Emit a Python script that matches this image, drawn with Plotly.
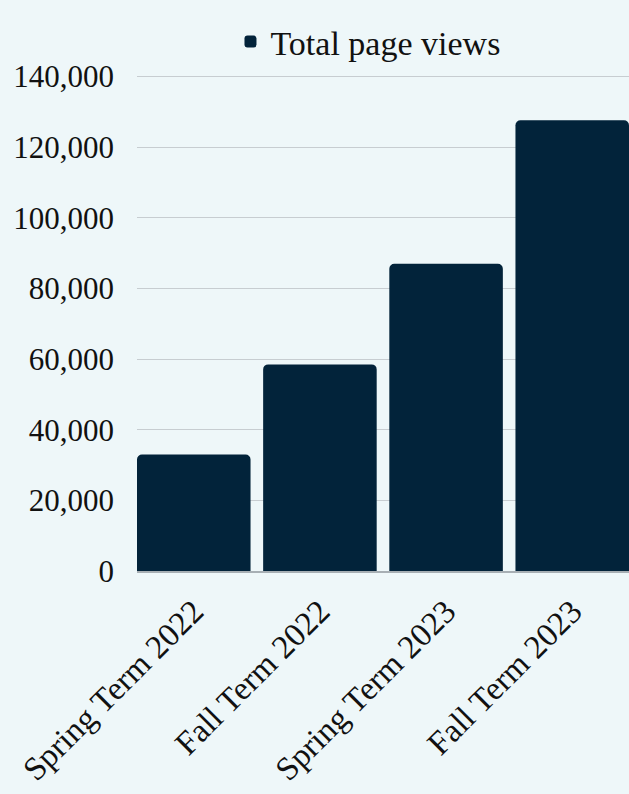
import plotly.graph_objects as go

categories = ["Spring Term 2022", "Fall Term 2022", "Spring Term 2023", "Fall Term 2023"]
page_views = [33000, 58500, 87000, 127600]
series_name = "Total page views"
y_ticks = [0, 20000, 40000, 60000, 80000, 100000, 120000, 140000]

BG = "#eef7f9"
BAR = "#02233a"
FONT = "Liberation Serif"
TXT = "#111111"

fig = go.Figure()
fig.add_trace(go.Bar(
    x=categories,
    y=page_views,
    name=series_name,
    marker=dict(color=BAR, line=dict(width=0)),
    showlegend=True,
))

fig.update_layout(
    width=629,
    height=794,
    paper_bgcolor=BG,
    plot_bgcolor=BG,
    margin=dict(l=137, r=0, t=73, b=223),
    font=dict(family=FONT, size=31, color=TXT),
    bargap=0.1,
    barcornerradius=5,
    showlegend=True,
    legend=dict(
        orientation="h",
        x=0.19, xanchor="left",
        y=1.004, yanchor="bottom",
        font=dict(family=FONT, size=34, color=TXT),
        bgcolor="rgba(0,0,0,0)",
        itemwidth=30,
    ),
    xaxis=dict(
        type="category",
        range=[-0.45, 3.45],
        tickangle=-45,
        showgrid=False,
        showline=True,
        linecolor="#a7afb4",
        linewidth=1.5,
        ticks="",
        ticklabelstandoff=6,
        tickfont=dict(family=FONT, size=33, color=TXT),
    ),
    yaxis=dict(
        range=[0, 141000],
        tickvals=y_ticks,
        tickformat=",d",
        showgrid=True,
        gridcolor="#c7cdd1",
        gridwidth=1,
        zeroline=False,
        showline=False,
        ticks="",
        ticklabelstandoff=22,
        tickfont=dict(family=FONT, size=31, color=TXT),
    ),
)

fig.write_html(
    "out.html",
    config={"displayModeBar": False},
    post_script="document.body.style.margin='0';",
)
